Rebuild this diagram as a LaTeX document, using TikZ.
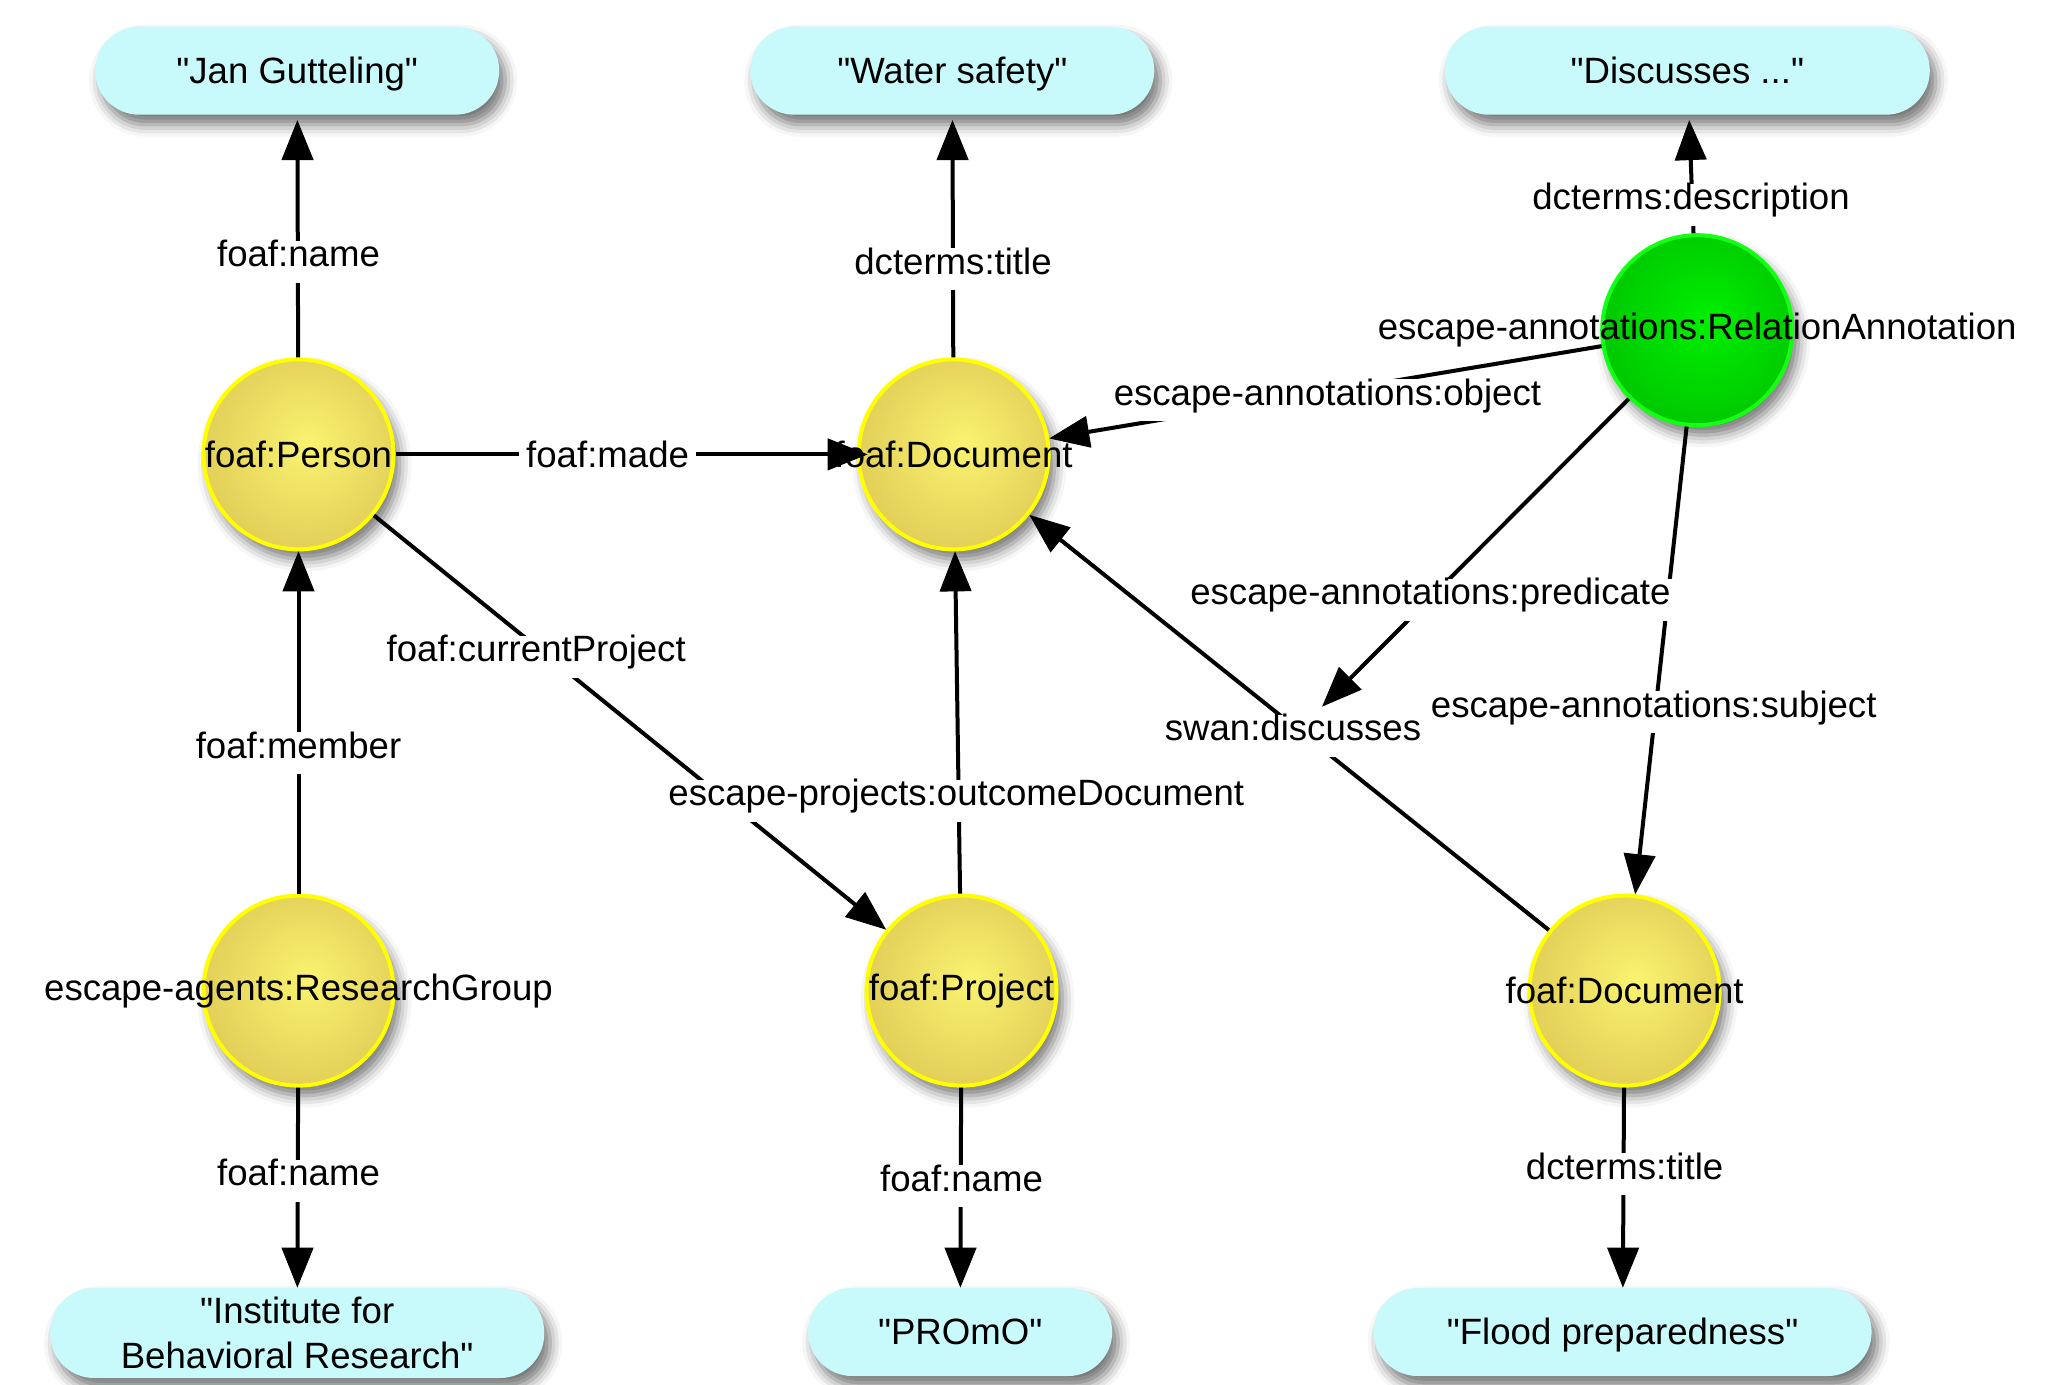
\documentclass[tikz,border=0pt]{standalone}
\usepackage{fontspec}
\setmainfont{Liberation Sans}[Ligatures=TeXOff]
\usetikzlibrary{arrows.meta,shadows.blur}
\pgfdeclarelayer{back}
\pgfdeclarelayer{edges}
\pgfdeclarelayer{front}
\pgfsetlayers{back,main,edges,front}
\definecolor{pillc}{RGB}{200,250,252}
\definecolor{yin}{RGB}{250,243,112}
\definecolor{yout}{RGB}{226,207,88}
\definecolor{ybd}{RGB}{255,255,0}
\definecolor{gin}{RGB}{0,240,0}
\definecolor{gout}{RGB}{0,200,0}
\definecolor{gbd}{RGB}{20,255,20}
\pgfdeclareradialshading{yshade}{\pgfpoint{3bp}{3bp}}{color(0bp)=(yin); color(27bp)=(yout); color(50bp)=(yout)}
\pgfdeclareradialshading{gshade}{\pgfpoint{3bp}{3bp}}{color(0bp)=(gin); color(27bp)=(gout); color(50bp)=(gout)}
\begin{document}
\begin{tikzpicture}[x=0.5pt,y=-0.5pt,
  every node/.style={font=\fontsize{18.3}{22.5}\selectfont},
  shad/.style={blur shadow={shadow xshift=3pt,shadow yshift=-5pt,shadow blur radius=6pt,shadow opacity=55}},
  tshad/.style={blur shadow={shadow xshift=3pt,shadow yshift=-8pt,shadow blur radius=8pt,shadow opacity=50}},
  res/.style={circle,minimum size=95pt,inner sep=0pt,line width=2pt,shad},
  yres/.style={res,draw=ybd,shading=yshade},
  gres/.style={res,draw=gbd,shading=gshade},
  restxt/.style={inner sep=0pt},
  lit/.style={rectangle,rounded corners=22pt,minimum height=44pt,fill=pillc,align=center,inner sep=0pt,shad},
  lit1/.style={lit,text height=12.6pt,text depth=0pt},
  lbl/.style={fill=white,inner xsep=3.5pt,inner ysep=5.5pt,text height=0.75em,text depth=0.25em},
  arr/.style={draw=black,line width=2pt,-{Triangle[length=20pt,width=16pt,fill=black,line width=0.5pt]}},
]
\useasboundingbox (0,0) rectangle (2071,1385);

% resources
\node[yres] (person) at (298.5,454.4) {};
\node[yres] (doc1) at (953.6,454.4) {};
\node[gres] (green) at (1697.2,330.2) {};
\node[yres] (rg) at (298.5,990.6) {};
\node[yres] (proj) at (961.5,990.6) {};
\node[yres] (doc2) at (1624.6,990.6) {};
\node[restxt] (persont) at (person) {foaf:Person};
\node[restxt] (doc1t) at (doc1) {foaf:Document};
\node[restxt] (greent) at (green) {escape-annotations:RelationAnnotation};
\node[restxt] (rgt) at (rg) {escape-agents:ResearchGroup};
\node[restxt] (projt) at (proj) {foaf:Project};
\node[restxt] (doc2t) at (doc2) {foaf:Document};
\begin{pgfonlayer}{back}
\path[tshad,rounded corners=8pt] (greent.south west) rectangle (greent.north east);
\path[tshad,rounded corners=8pt] (rgt.south west) rectangle (rgt.north east);
\end{pgfonlayer}

% literals
\node[lit1,minimum width=202pt] (jan) at (297.2,70.7) {"Jan Gutteling"};
\node[lit1,minimum width=202pt] (water) at (952.3,70.7) {"Water safety"};
\node[lit1,minimum width=242.5pt] (disc) at (1687.3,70.7) {"Discusses ..."};
\node[lit,minimum width=247pt,minimum height=45pt] (inst) at (297.2,1333) {"Institute for\\Behavioral Research"};
\node[lit1,minimum width=152pt] (promo) at (960.2,1332) {"PROmO"};
\node[lit1,minimum width=249pt] (flood) at (1622.6,1332) {"Flood preparedness"};

% edge labels
\begin{pgfonlayer}{front}
\node[lbl] (lname1) at (298.5,261.6) {foaf:name};
\node[lbl] (ltitle1) at (953,269.5) {dcterms:title};
\node[lbl] (ldesc) at (1691,204.8) {dcterms:description};
\node[lbl] (lmade) at (607.6,462.4) {foaf:made};
\node[lbl] (lcur) at (536.2,656.5) {foaf:currentProject};
\node[lbl] (lmember) at (298.5,753) {foaf:member};
\node[lbl] (lname2) at (298.5,1180.9) {foaf:name};
\node[lbl] (lout) at (956.3,800.5) {escape-projects:outcomeDocument};
\node[lbl] (lname3) at (961.5,1186.2) {foaf:name};
\node[lbl] (ltitle2) at (1624.6,1174.3) {dcterms:title};
\node[lbl] (lobj) at (1327.4,400.3) {escape-annotations:object};
\node[lbl] (lsubj) at (1653.7,712) {escape-annotations:subject};
\node[lbl] (lpred) at (1430.4,599.7) {escape-annotations:predicate};
\node[lbl] (lswan) at (1293,735.8) {swan:discusses};
\end{pgfonlayer}

% edges
\begin{pgfonlayer}{edges}
\draw[arr,shorten >=2.5pt] (person) -- (jan);
\draw[arr,shorten >=2.5pt] (doc1) -- (water);
\draw[arr,shorten >=2.5pt] (green) -- (disc);
\draw[arr,shorten >=-5.5pt] (person) -- (doc1);
\draw[arr] (person) -- (proj);
\draw[arr] (rg) -- (person);
\draw[arr] (rg) -- (inst);
\draw[arr] (proj) -- (doc1);
\draw[arr] (proj) -- (promo);
\draw[arr] (doc2) -- (flood);
\draw[arr] (green) -- (doc1);
\draw[arr] (green) -- (doc2);
\draw[arr,shorten >=5.5pt] (green) -- (lswan);
\draw[arr] (doc2) -- (doc1);
\end{pgfonlayer}
\end{tikzpicture}
\end{document}
